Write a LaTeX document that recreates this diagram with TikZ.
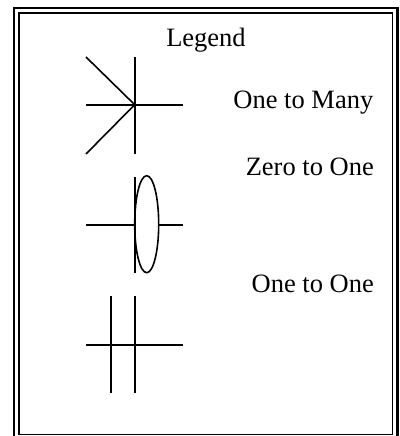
\documentclass[tikz,border=0pt]{standalone}
\usepackage{fontspec}
\usetikzlibrary{shapes.geometric}
\setmainfont{Liberation Serif}
\begin{document}
\begin{tikzpicture}[x=1pt,y=-1pt,
  sym/.style={line width=1.6pt},
  lbl/.style={font=\fontsize{26.5}{30}\selectfont, inner sep=0pt, anchor=base east},
  frameout/.style={line width=2.4pt},
  framein/.style={line width=1.6pt}]
\useasboundingbox (0,0) rectangle (399,436);
\fill[white] (0,0) rectangle (399,436);
% frames
\draw[frameout] (14,442) -- (14,7.8) -- (397.5,7.8) -- (397.5,442);
\draw[framein] (19,13.2) rectangle (392.5,434.5);
% title
\node[font=\fontsize{26.5}{30}\selectfont, inner sep=0pt, anchor=base] (title) at (206,46.5) {Legend};
% one to many
\coordinate (mc) at (134.7,104.7);
\coordinate (ml) at (86,104.7);
\coordinate (mr) at (183,104.7);
\coordinate (mt) at (134.7,56.7);
\coordinate (mb) at (134.7,154);
\coordinate (mul) at (86,57);
\coordinate (mll) at (86,154);
\draw[sym] (ml) -- (mr);
\draw[sym] (mt) -- (mb);
\draw[sym] (mul) -- (mc) -- (mll);
\node[lbl] (many) at (373.5,108.3) {One to Many};
% zero to one
\coordinate (zl) at (86,225);
\coordinate (zel) at (134.7,225);
\coordinate (zer) at (158.7,225);
\coordinate (zr) at (183,225);
\coordinate (zt) at (134.7,176.7);
\coordinate (zb) at (134.7,273);
\draw[sym] (zl) -- (zel);
\draw[sym] (zer) -- (zr);
\draw[sym] (zt) -- (zb);
\node[draw, sym, ellipse, minimum width=24pt, minimum height=97pt, inner sep=0pt] (ell) at (146.7,224.2) {};
\node[lbl] (zero) at (374,175.7) {Zero to One};
% one to one
\coordinate (ol) at (86,345);
\coordinate (or) at (183,345);
\coordinate (o1t) at (110.7,296);
\coordinate (o1b) at (110.7,393.3);
\coordinate (o2t) at (134.7,296);
\coordinate (o2b) at (134.7,393.3);
\draw[sym] (ol) -- (or);
\draw[sym] (o1t) -- (o1b);
\draw[sym] (o2t) -- (o2b);
\node[lbl] (one) at (374,292.7) {One to One};
\end{tikzpicture}
\end{document}
